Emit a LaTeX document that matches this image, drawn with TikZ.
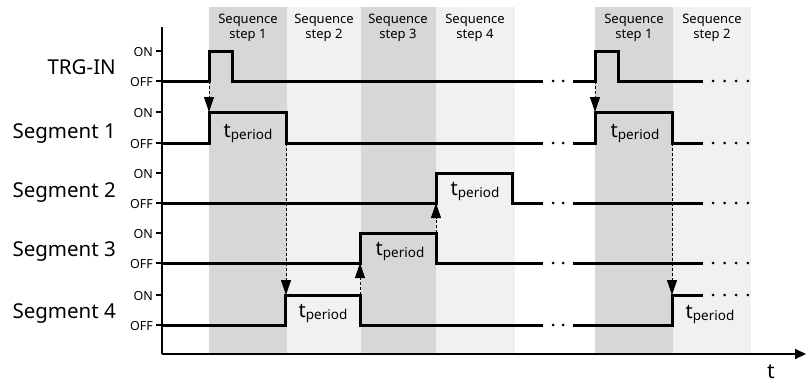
\documentclass[tikz,border=0pt]{standalone}
\usepackage{fontspec}
\setmainfont{Noto Sans}
\usetikzlibrary{arrows.meta}
\definecolor{stepdark}{RGB}{215,215,215}
\definecolor{steplight}{RGB}{241,241,241}
% t with the "period" subscript
\newcommand{\tpd}{{\fontsize{20}{22}\selectfont t\raisebox{-2pt}{\fontsize{13.5}{15}\selectfont period}}}
\begin{document}
\begin{tikzpicture}[x=1pt,y=-1pt,
  sig/.style={line width=3pt, line join=miter},
  axisline/.style={line width=1.8pt},
  cause/.style={line width=0.9pt, dash pattern=on 3pt off 2pt,
    -{Triangle[length=15pt,width=10pt]}},
  dotrun/.style={line width=3pt, line cap=round, dash pattern=on 0pt off #1},
  dotrun/.default=10pt,
  steplabel/.style={font=\fontsize{13}{15}\selectfont, align=center, anchor=north, inner sep=0pt},
  level/.style={font=\fontsize{12.5}{14}\selectfont, anchor=east, inner sep=0pt},
  signame/.style={font=\fontsize{20.5}{23}\selectfont, anchor=base east, inner sep=0pt},
  period/.style={anchor=base, inner sep=0pt}]
\useasboundingbox (0,0) rectangle (806,383);

% sequence step bands
\fill[stepdark]  (209,7) rectangle (287,354);
\fill[steplight] (287,7) rectangle (361,354);
\fill[stepdark]  (361,7) rectangle (436,354);
\fill[steplight] (436,7) rectangle (515,354);
\fill[stepdark]  (595,7) rectangle (673,354);
\fill[steplight] (673,7) rectangle (751,354);

\node[steplabel] (s1)  at (248,14) {Sequence\\step 1};
\node[steplabel] (s2)  at (324,14) {Sequence\\step 2};
\node[steplabel] (s3)  at (398,14) {Sequence\\step 3};
\node[steplabel] (s4)  at (475,14) {Sequence\\step 4};
\node[steplabel] (s1b) at (634,14) {Sequence\\step 1};
\node[steplabel] (s2b) at (712,14) {Sequence\\step 2};

% axes
\coordinate (origin) at (162,354);
\coordinate (ytop) at (162,27);
\coordinate (xend) at (806,354);
\draw[axisline] (ytop) -- (origin);
\draw[axisline, -{Triangle[length=11pt,width=10pt]}] (origin) -- (xend);
\node[font=\fontsize{21}{23}\selectfont, inner sep=0pt, anchor=base] (tlab) at (771,378) {t};

% level ticks and labels
\foreach \on/\off in {51/81, 112/143, 173/203, 233/263, 295/325} {
  \draw[axisline] (156,\on) -- (162,\on);
  \draw[axisline] (156,\off) -- (162,\off);
  \node[level] at (153,\on+1) {ON};
  \node[level] at (153,\off+1) {OFF};
}

% signal names
\node[signame] (ntrg) at (116,74)  {TRG-IN};
\node[signame] (nsg1) at (116,138) {Segment 1};
\node[signame] (nsg2) at (116,197) {Segment 2};
\node[signame] (nsg3) at (116,256) {Segment 3};
\node[signame] (nsg4) at (116,318) {Segment 4};

% TRG-IN
\draw[sig] (162,81) -- (209,81) -- (209,51) -- (232,51) -- (232,81) -- (543,81);
\draw[dotrun] (553,81) -- (565,81);
\draw[sig] (573,81) -- (595,81) -- (595,51) -- (618,51) -- (618,81) -- (703,81);
\draw[dotrun=11.6pt] (713,81) -- (751,81);

% Segment 1
\draw[sig] (162,143) -- (209,143) -- (209,112) -- (286,112) -- (286,143) -- (543,143);
\draw[dotrun] (553,143) -- (565,143);
\draw[sig] (573,143) -- (595,143) -- (595,112) -- (672,112) -- (672,143) -- (703,143);
\draw[dotrun=11.6pt] (713,143) -- (751,143);

% Segment 2
\draw[sig] (162,203) -- (436,203) -- (436,173) -- (512,173) -- (512,203) -- (543,203);
\draw[dotrun] (553,203) -- (565,203);
\draw[sig] (573,203) -- (703,203);
\draw[dotrun=11.6pt] (713,203) -- (751,203);

% Segment 3
\draw[sig] (162,263) -- (360,263) -- (360,233) -- (436,233) -- (436,263) -- (543,263);
\draw[dotrun] (553,263) -- (565,263);
\draw[sig] (573,263) -- (703,263);
\draw[dotrun=11.6pt] (713,263) -- (751,263);

% Segment 4
\draw[sig] (162,325) -- (285,325) -- (285,295) -- (360,295) -- (360,325) -- (543,325);
\draw[dotrun] (553,325) -- (565,325);
\draw[sig] (573,325) -- (672,325) -- (672,295) -- (703,295);
\draw[dotrun=11.6pt] (713,295) -- (751,295);

% pulse widths
\node[period] (p1)  at (248,137) {\tpd};
\node[period] (p2)  at (475,195) {\tpd};
\node[period] (p3)  at (400,255) {\tpd};
\node[period] (p4)  at (323,317) {\tpd};
\node[period] (p1b) at (635,137) {\tpd};
\node[period] (p4b) at (710,318) {\tpd};

% trigger chain
\coordinate (trgup)  at (209,81);  \coordinate (sg1on)  at (209,112);
\coordinate (sg1dn)  at (286,143); \coordinate (sg4on)  at (286,295);
\coordinate (sg4dn)  at (360,295); \coordinate (sg3off) at (360,263);
\coordinate (sg3dn)  at (436,233); \coordinate (sg2off) at (436,203);
\coordinate (trgupb) at (595,81);  \coordinate (sg1onb) at (595,112);
\coordinate (sg1dnb) at (672,143); \coordinate (sg4onb) at (672,295);
\draw[cause] (trgup)  -- (sg1on);
\draw[cause] (sg1dn)  -- (sg4on);
\draw[cause] (sg4dn)  -- (sg3off);
\draw[cause] (sg3dn)  -- (sg2off);
\draw[cause] (trgupb) -- (sg1onb);
\draw[cause] (sg1dnb) -- (sg4onb);
\end{tikzpicture}
\end{document}
